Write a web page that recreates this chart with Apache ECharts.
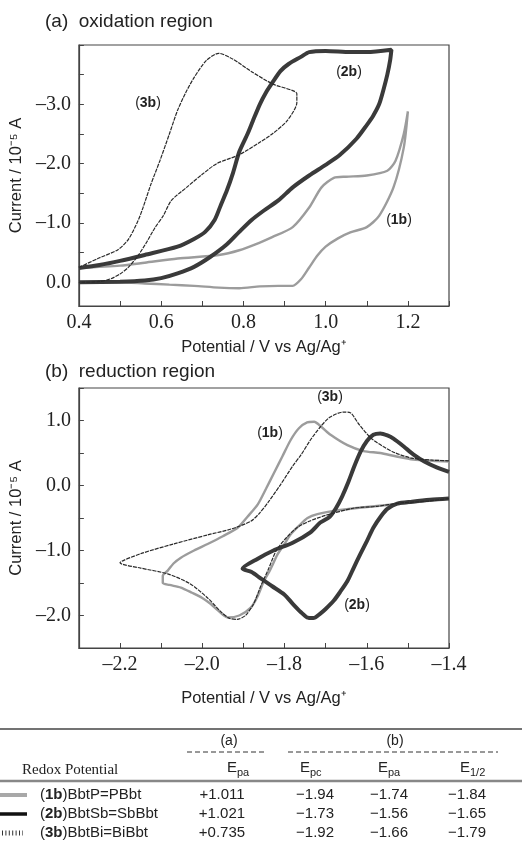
<!DOCTYPE html>
<html>
<head>
<meta charset="utf-8">
<script src="https://cdn.jsdelivr.net/npm/echarts@6/dist/echarts.min.js"></script>
<style>
  html, body { margin: 0; padding: 0; background: #fff; }
  #chart { width: 522px; height: 846px; }
</style>
</head>
<body>
<div id="chart"></div>
<script>
// (a) 氧化区 —— [电位 V, 电流 10^-5 A]
var ox1b = [[0.40,0.00],[0.50,0.00],[0.56,0.02],[0.62,0.04],[0.68,0.06],[0.74,0.09],[0.79,0.10],[0.84,0.07],[0.885,0.06],[0.92,0.06],[0.94,-0.05],[0.96,-0.25],[0.98,-0.45],[1.00,-0.60],[1.03,-0.74],[1.06,-0.84],[1.10,-0.93],[1.13,-1.12],[1.165,-1.60],[1.19,-2.27],[1.20,-2.88],
  [1.19,-2.50],[1.17,-2.05],[1.15,-1.88],[1.10,-1.80],[1.05,-1.78],[1.02,-1.76],[0.99,-1.60],[0.96,-1.26],[0.92,-0.93],[0.87,-0.76],[0.84,-0.67],[0.79,-0.54],[0.74,-0.46],[0.64,-0.40],[0.56,-0.33],[0.50,-0.28],[0.40,-0.24]];
var ox2b = [[0.40,0.00],[0.50,-0.01],[0.56,-0.03],[0.60,-0.07],[0.64,-0.15],[0.68,-0.26],[0.72,-0.43],[0.76,-0.64],[0.79,-0.85],[0.82,-1.05],[0.85,-1.21],[0.885,-1.38],[0.92,-1.60],[0.96,-1.80],[1.00,-1.98],[1.035,-2.15],[1.075,-2.42],[1.10,-2.65],[1.115,-2.80],[1.13,-3.00],[1.14,-3.23],[1.15,-3.50],[1.157,-3.75],[1.16,-3.92],
  [1.10,-3.88],[1.06,-3.88],[1.00,-3.90],[0.96,-3.88],[0.94,-3.80],[0.91,-3.68],[0.89,-3.56],[0.87,-3.36],[0.855,-3.20],[0.84,-3.00],[0.823,-2.72],[0.81,-2.50],[0.79,-2.20],[0.775,-1.85],[0.76,-1.55],[0.745,-1.30],[0.73,-1.05],[0.707,-0.85],[0.68,-0.73],[0.64,-0.60],[0.56,-0.46],[0.50,-0.36],[0.45,-0.29],[0.40,-0.24]];
var ox3b = [[0.40,-0.25],[0.446,-0.40],[0.495,-0.55],[0.52,-0.72],[0.544,-1.04],[0.556,-1.26],[0.575,-1.65],[0.597,-2.05],[0.62,-2.50],[0.64,-2.90],[0.66,-3.20],[0.68,-3.45],[0.71,-3.74],[0.74,-3.86],[0.775,-3.76],[0.82,-3.55],[0.872,-3.34],[0.93,-3.18],
  [0.93,-3.03],[0.906,-2.72],[0.87,-2.50],[0.84,-2.36],[0.79,-2.15],[0.735,-2.00],[0.70,-1.82],[0.662,-1.60],[0.625,-1.38],[0.605,-1.12],[0.585,-0.92],[0.565,-0.68],[0.544,-0.45],[0.52,-0.25],[0.50,-0.14],[0.478,-0.06],[0.45,-0.01],[0.40,0.00]];

// (b) 还原区
var red1b = [[-1.40,-0.20],[-1.50,-0.27],[-1.60,-0.33],[-1.67,-0.38],[-1.72,-0.44],[-1.744,-0.50],[-1.765,-0.62],[-1.785,-0.75],[-1.80,-0.90],[-1.817,-1.06],[-1.835,-1.30],[-1.85,-1.47],[-1.865,-1.70],[-1.882,-1.88],[-1.91,-2.00],[-1.938,-2.03],[-1.962,-1.92],[-1.98,-1.82],[-2.00,-1.73],[-2.025,-1.65],[-2.052,-1.57],[-2.08,-1.53],[-2.096,-1.50],[-2.096,-1.39],
  [-2.084,-1.31],[-2.07,-1.20],[-2.052,-1.11],[-2.02,-1.00],[-1.987,-0.90],[-1.95,-0.78],[-1.914,-0.65],[-1.89,-0.48],[-1.865,-0.29],[-1.845,-0.05],[-1.825,0.20],[-1.805,0.45],[-1.785,0.70],[-1.765,0.88],[-1.745,0.97],[-1.728,0.98],[-1.71,0.90],[-1.688,0.78],[-1.647,0.62],[-1.608,0.53],[-1.567,0.50],[-1.53,0.45],[-1.487,0.40],[-1.44,0.38],[-1.40,0.37]];
var red2b = [[-1.40,-0.20],[-1.446,-0.22],[-1.49,-0.25],[-1.526,-0.28],[-1.55,-0.36],[-1.565,-0.47],[-1.584,-0.65],[-1.60,-0.86],[-1.616,-1.06],[-1.632,-1.27],[-1.647,-1.47],[-1.665,-1.64],[-1.68,-1.77],[-1.70,-1.90],[-1.713,-1.97],[-1.73,-2.04],[-1.745,-2.03],[-1.76,-1.95],[-1.78,-1.82],[-1.80,-1.68],[-1.83,-1.55],[-1.858,-1.43],[-1.88,-1.33],[-1.902,-1.28],
  [-1.866,-1.13],[-1.827,-1.00],[-1.78,-0.88],[-1.737,-0.72],[-1.713,-0.57],[-1.69,-0.48],[-1.675,-0.35],[-1.66,-0.17],[-1.645,0.05],[-1.63,0.30],[-1.615,0.52],[-1.60,0.68],[-1.584,0.78],[-1.567,0.80],[-1.55,0.77],[-1.535,0.72],[-1.51,0.60],[-1.487,0.48],[-1.46,0.37],[-1.43,0.28],[-1.40,0.21]];
var red3b = [[-1.40,-0.20],[-1.45,-0.24],[-1.52,-0.27],[-1.575,-0.32],[-1.633,-0.35],[-1.70,-0.46],[-1.74,-0.55],[-1.77,-0.65],[-1.795,-0.80],[-1.82,-1.00],[-1.84,-1.30],[-1.858,-1.55],[-1.875,-1.82],[-1.895,-2.00],[-1.915,-2.06],[-1.935,-2.04],[-1.955,-1.94],[-1.987,-1.73],[-2.03,-1.51],[-2.084,-1.36],[-2.15,-1.27],[-2.20,-1.19],
  [-2.15,-1.05],[-2.07,-0.90],[-1.987,-0.76],[-1.93,-0.67],[-1.882,-0.55],[-1.86,-0.42],[-1.84,-0.26],[-1.81,0.01],[-1.78,0.30],[-1.76,0.47],[-1.737,0.70],[-1.713,0.90],[-1.69,1.05],[-1.657,1.13],[-1.64,1.12],[-1.62,0.95],[-1.59,0.73],[-1.56,0.60],[-1.53,0.50],[-1.49,0.42],[-1.44,0.39],[-1.40,0.38]];

// 表格
var tableRows = ['1b', '2b', '3b'];
var rowNames = [')BbtP=PBbt', ')BbtSb=SbBbt', ')BbtBi=BiBbt'];
var epaOx = ['+1.011', '+1.021', '+0.735'];
var epcRed = ['\u22121.94', '\u22121.73', '\u22121.92'];
var epaRed = ['\u22121.74', '\u22121.56', '\u22121.66'];
var eHalf = ['\u22121.84', '\u22121.65', '\u22121.79'];

var SANS = '"Liberation Sans", Arial, sans-serif';
var SERIF = '"Liberation Serif", "Times New Roman", serif';
var INK = '#222';
var AXIS = '#444';

var myChart = echarts.init(document.getElementById('chart'), null, {renderer: 'canvas'});

function fmtNum(v) {
  var s = Math.abs(v).toFixed(1);
  return v < -1e-9 ? '\u2013' + s : s;
}

// x轴: 每0.1一个刻度, 偶数位才有标签
function xAxisCfg(gridIndex, min, max, gap) {
  return {
    type: 'value', gridIndex: gridIndex, min: min, max: max, interval: 0.1,
    name: 'Potential / V vs Ag/Ag\u207A', nameLocation: 'middle', nameGap: gap,
    nameTextStyle: {fontFamily: SANS, fontSize: 16.5, color: INK},
    axisLine: {show: true, onZero: false, lineStyle: {color: AXIS, width: 1.2}},
    axisTick: {show: true, inside: true, length: 5, lineStyle: {color: AXIS}},
    splitLine: {show: false},
    axisLabel: {
      fontFamily: SERIF, fontSize: 20, color: INK, margin: 7,
      formatter: function (v) {
        var k = Math.round(v * 10);
        return k % 2 === 0 ? fmtNum(v) : '';
      }
    }
  };
}

function yAxisCfg(gridIndex, min, max, inverse) {
  return {
    type: 'value', gridIndex: gridIndex, min: min, max: max, interval: 0.5, inverse: inverse,
    name: 'Current / 10\u207B\u2075 A', nameLocation: 'middle', nameGap: 48, nameRotate: 90,
    nameTextStyle: {fontFamily: SANS, fontSize: 16.5, color: INK},
    axisLine: {show: true, onZero: false, lineStyle: {color: AXIS, width: 1.2}},
    axisTick: {show: true, inside: true, length: 5, lineStyle: {color: AXIS}},
    splitLine: {show: false},
    axisLabel: {
      fontFamily: SERIF, fontSize: 20, color: INK, margin: 8,
      showMinLabel: true, showMaxLabel: true,
      formatter: function (v) {
        var k = Math.round(v * 10);
        if (k % 10 !== 0) return '';
        if (v <= min + 1e-6 || v >= max - 1e-6) return '';
        return fmtNum(v);
      }
    }
  };
}

function curve(name, data, gi, style) {
  return {
    name: name, type: 'line', xAxisIndex: gi, yAxisIndex: gi,
    data: data, showSymbol: false, smooth: 0.25, silent: true,
    lineStyle: style
  };
}

var gray = {color: '#9c9c9c', width: 2.4};
var thick = {color: '#3a3a3a', width: 4};
var thin = {color: '#2a2a2a', width: 1.2, type: [4, 1]};

function txt(x, y, str, font, align, extra) {
  var st = {text: str, x: x, y: y, font: font, fill: INK,
    align: align || 'left', textAlign: align || 'left',
    verticalAlign: 'middle', textVerticalAlign: 'middle'};
  if (extra) for (var k in extra) st[k] = extra[k];
  return {type: 'text', silent: true, style: st};
}

function tag(x, y, id) {
  return txt(x, y, '{n|(}{b|' + id + '}{n|)}', '14px ' + SANS, 'center', {
    rich: {
      n: {font: '14px ' + SANS, fill: INK},
      b: {font: 'bold 14px ' + SANS, fill: INK}
    }
  });
}

function hline(x1, x2, y, color, w, dash) {
  var st = {stroke: color, lineWidth: w};
  if (dash) st.lineDash = dash;
  return {type: 'line', silent: true, shape: {x1: x1, y1: y, x2: x2, y2: y}, style: st};
}

function buildGraphic() {
  var g = [];
  g.push(txt(45, 22, '(a)  oxidation region', '19px ' + SANS));
  g.push(txt(45, 372, '(b)  reduction region', '19px ' + SANS));
  g.push(tag(148, 103, '3b'));
  g.push(tag(349, 72, '2b'));
  g.push(tag(399, 220, '1b'));
  g.push(tag(270, 433, '1b'));
  g.push(tag(330, 397, '3b'));
  g.push(tag(357, 605, '2b'));

  // 表头
  g.push(hline(0, 522, 729, '#444', 1.5));
  g.push(txt(229, 741, '(a)', '14px ' + SANS, 'center'));
  g.push(txt(395, 741, '(b)', '14px ' + SANS, 'center'));
  g.push(hline(187, 265, 752, '#333', 1, [5, 3]));
  g.push(hline(288, 498, 752, '#333', 1, [5, 3]));
  g.push(txt(22, 770, 'Redox Potential', '15px ' + SERIF));
  var heads = [[227, 'pa'], [300, 'pc'], [378, 'pa'], [460, '1/2']];
  heads.forEach(function (h) {
    g.push(txt(h[0], 768, 'E', '15px ' + SANS));
    g.push(txt(h[0] + 10, 773, h[1], '11px ' + SANS));
  });
  g.push(hline(0, 522, 781, '#888', 2.5));

  // 行
  var rowY = [795, 814, 833];
  var legendStyles = [
    {stroke: '#a8a8a8', lineWidth: 4},
    {stroke: '#111', lineWidth: 3.5},
    {stroke: '#333', lineWidth: 5, lineDash: [1, 2.4]}
  ];
  for (var i = 0; i < tableRows.length; i++) {
    var y = rowY[i];
    g.push({type: 'line', silent: true, shape: {x1: i === 2 ? 2 : 0, y1: y, x2: i === 2 ? 23 : 27, y2: y}, style: legendStyles[i]});
    g.push(txt(40, y, '{n|(}{b|' + tableRows[i] + '}{n|' + rowNames[i] + '}', '15px ' + SANS, 'left', {
      rich: {
        n: {font: '15px ' + SANS, fill: INK},
        b: {font: 'bold 15px ' + SANS, fill: INK}
      }
    }));
    g.push(txt(222, y, epaOx[i], '15px ' + SANS, 'center'));
    g.push(txt(315, y, epcRed[i], '15px ' + SANS, 'center'));
    g.push(txt(389, y, epaRed[i], '15px ' + SANS, 'center'));
    g.push(txt(467, y, eHalf[i], '15px ' + SANS, 'center'));
  }
  return g;
}

var option = {
  animation: false,
  backgroundColor: '#fff',
  grid: [
    {left: 78, top: 45, width: 371, height: 261, show: true, borderColor: AXIS, borderWidth: 1.2, backgroundColor: 'transparent', containLabel: false},
    {left: 78, top: 388, width: 371, height: 260, show: true, borderColor: AXIS, borderWidth: 1.2, backgroundColor: 'transparent', containLabel: false}
  ],
  xAxis: [xAxisCfg(0, 0.4, 1.3, 33), xAxisCfg(1, -2.3, -1.4, 42)],
  yAxis: [yAxisCfg(0, -4, 0.4, true), yAxisCfg(1, -2.5, 1.5, false)],
  series: [
    curve('1b-ox', ox1b, 0, gray),
    curve('2b-ox', ox2b, 0, thick),
    curve('3b-ox', ox3b, 0, thin),
    curve('1b-red', red1b, 1, gray),
    curve('2b-red', red2b, 1, thick),
    curve('3b-red', red3b, 1, thin)
  ],
  graphic: buildGraphic()
};

myChart.setOption(option);
</script>
</body>
</html>
